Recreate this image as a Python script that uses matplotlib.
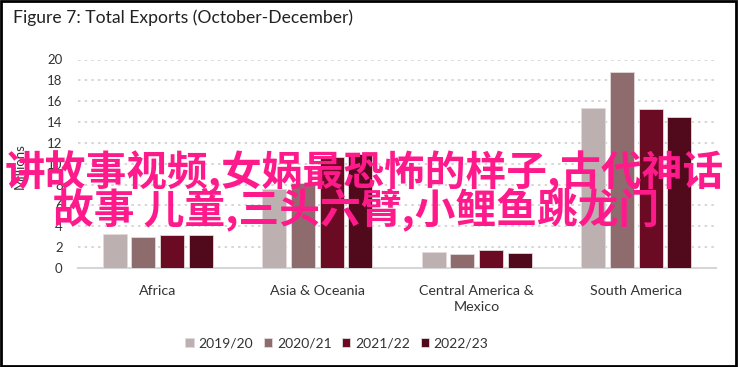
import numpy as np
import matplotlib.pyplot as plt
from matplotlib.patches import Rectangle

plt.rcParams['font.family'] = ['Lato', 'DejaVu Sans']

regions = ["Africa", "Asia & Oceania", "Central America &\nMexico", "South America"]
seasons = ["2019/20", "2020/21", "2021/22", "2022/23"]
v_2019 = [3.25, 7.6, 1.56, 15.3]
v_2020 = [2.97, 8.2, 1.31, 18.8]
v_2021 = [3.19, 10.65, 1.72, 15.25]
v_2022 = [3.19, 10.9, 1.43, 14.5]
colors = ["#BDB0B0", "#8E6B6D", "#6B0B23", "#51091C"]

title = "Figure 7: Total Exports (October-December)"
overlay_1 = "讲故事视频,女娲最恐怖的样子,古代神话"
overlay_2 = "故事 儿童,三头六臂,小鲤鱼跳龙门"

fig = plt.figure(figsize=(7.39, 3.67), dpi=100)
ax = fig.add_axes([78 / 739, 1 - 268 / 367, 638 / 739, (268 - 59.5) / 367])

x = np.arange(len(regions))
width = 0.15
step = 0.18
for i, (vals, c, lab) in enumerate(zip([v_2019, v_2020, v_2021, v_2022], colors, seasons)):
    ax.bar(x + (i - 1.5) * step, vals, width, color=c, edgecolor="#E2DADA",
           linewidth=0.6, label=lab, zorder=3)

ax.set_xlim(-0.5, len(regions) - 0.5)
ax.set_ylim(0, 20)
ax.set_yticks(range(0, 21, 2))
ax.set_xticks(x)
ax.set_xticklabels(regions, fontsize=10.3, color="#333333", linespacing=1.4)
ax.tick_params(axis="y", length=0, pad=11, labelsize=9.5, labelcolor="#333333")
ax.tick_params(axis="x", length=0, pad=12)
ax.yaxis.grid(True, linestyle=(0, (1.5, 2.5)), color="#D0D0D0", linewidth=1.2, zorder=0)
for s in ["top", "right", "left"]:
    ax.spines[s].set_visible(False)
ax.spines["bottom"].set_color("#D6D6D6")
ax.spines["bottom"].set_linewidth(1.5)
ax.set_ylabel("Millions", fontsize=9.5, color="#333333")
ax.yaxis.set_label_coords((26 - 78) / 638, 0.49)

fig.text(13 / 739, 1 - 18 / 367, title, fontsize=12.6, color="#222222", va="center", ha="left")

fig.legend(loc="center", bbox_to_anchor=(0.456, 1 - 343 / 367), ncol=4, frameon=False,
           fontsize=10, handlelength=0.6, handleheight=0.6, handletextpad=0.35,
           columnspacing=0.75, labelcolor="#333333")

cjk = ["Noto Sans CJK SC", "DejaVu Sans"]
fig.text(364 / 739, 1 - 172 / 367, overlay_1, fontsize=29.3, weight="bold", color="#FF1A8C",
         ha="center", va="center", family=cjk, zorder=10)
fig.text(356 / 739, 1 - 209 / 367, overlay_2, fontsize=29.3, weight="bold", color="#FF1A8C",
         ha="center", va="center", family=cjk, zorder=10)

fig.add_artist(Rectangle((0.002, 0.004), 0.994, 0.993, transform=fig.transFigure,
                         fill=False, edgecolor="black", linewidth=2))

fig.savefig("out.png", dpi=100)
